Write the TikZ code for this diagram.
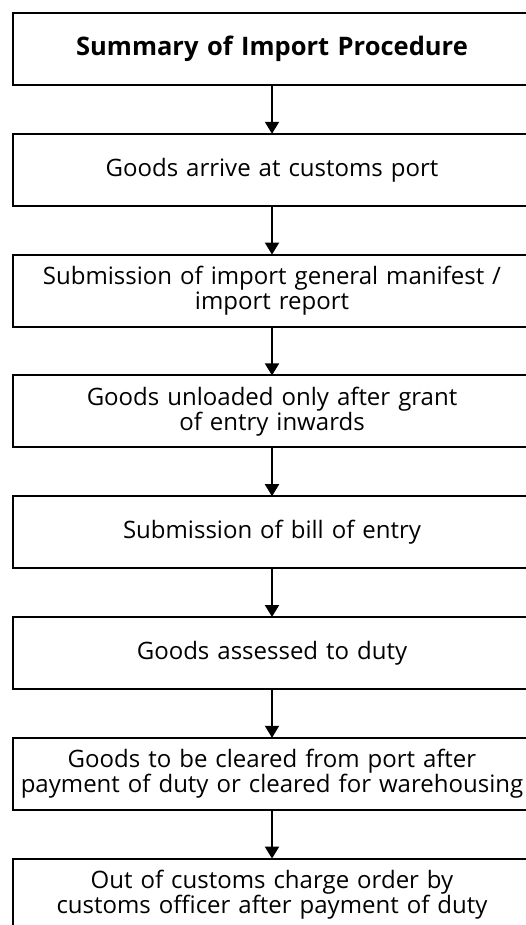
\documentclass[tikz,border=0pt]{standalone}
\usepackage{fontspec}
\setsansfont{Open Sans}
\usepackage{tikz}
\usetikzlibrary{arrows.meta,positioning}

\begin{document}
\begin{tikzpicture}[
        x=1pt, y=1pt,
        >={Triangle[length=12pt,width=14pt]},
        font=\sffamily\fontsize{24}{25}\selectfont,
        node distance=48.8pt,
        % box styles
        stage/.style={draw, line width=2pt, rectangle, minimum width=518pt, minimum height=72pt, outer sep=0pt, inner sep=0pt, text width=516pt, align=center},
        heading/.style={stage, font=\sffamily\bfseries\fontsize{25.5}{25}\selectfont},
        % connector style
        flow/.style={->, line width=2pt}
    ]

    % fixed frame, the boxes run past its right and bottom edges
    \useasboundingbox (0,0) rectangle (525,-925);

    % boxes of the procedure
    \node[heading, anchor=north west] (title) at (13,-13) {Summary of Import Procedure};
    \node[stage, below=of title] (arrive) {Goods arrive at customs port};
    \node[stage, below=of arrive] (manifest) {Submission of import general manifest /\\import report};
    \node[stage, below=of manifest] (unload) {Goods unloaded only after grant\\of entry inwards};
    \node[stage, below=of unload] (bill) {Submission of bill of entry};
    \node[stage, below=of bill] (assess) {Goods assessed to duty};
    \node[stage, below=of assess] (clear) {Goods to be cleared from port after\\payment of duty or cleared for warehousing};
    \node[stage, below=of clear] (order) {Out of customs charge order by\\customs officer after payment of duty};

    % arrows between the boxes
    \foreach \from/\to in {title/arrive, arrive/manifest, manifest/unload, unload/bill, bill/assess, assess/clear, clear/order}
        \draw[flow] (\from) -- (\to);

\end{tikzpicture}
\end{document}
